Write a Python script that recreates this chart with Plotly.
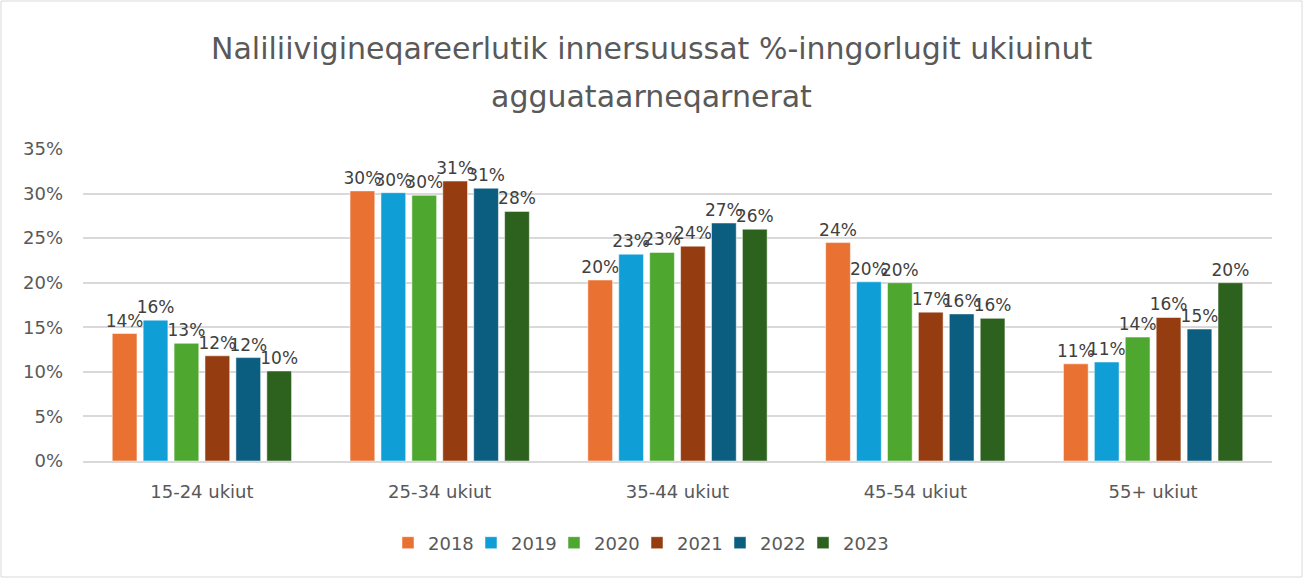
import plotly.graph_objects as go

categories = ['15-24 ukiut', '25-34 ukiut', '35-44 ukiut', '45-54 ukiut', '55+ ukiut']
years = ['2018', '2019', '2020', '2021', '2022', '2023']

v2018 = [0.143, 0.303, 0.203, 0.245, 0.109]
v2019 = [0.158, 0.301, 0.232, 0.201, 0.111]
v2020 = [0.132, 0.298, 0.234, 0.200, 0.139]
v2021 = [0.118, 0.314, 0.241, 0.167, 0.161]
v2022 = [0.116, 0.306, 0.267, 0.165, 0.148]
v2023 = [0.101, 0.280, 0.260, 0.160, 0.200]

series = [v2018, v2019, v2020, v2021, v2022, v2023]
COLORS = ['#E97132', '#0F9ED5', '#4EA72E', '#963C11', '#0B5E80', '#2D621E']

FONT = 'DejaVu Sans'
W, H = 1303, 578
L, R, T, B = 83, 31, 149, 117
PW, PH = W - L - R, H - T - B

fig = go.Figure()
for name, vals, col in zip(years, series, COLORS):
    fig.add_trace(go.Bar(
        x=categories, y=vals, name=name,
        marker=dict(color=col, line=dict(color='white', width=0.5)),
        text=[f'{round(v * 100):.0f}%' for v in vals],
        textposition='outside', constraintext='none', cliponaxis=False,
        textfont=dict(family=FONT, size=17, color='#404040'),
    ))

# entrada vacía al final de la leyenda: evita que se recorte el texto de 2023
fig.add_trace(go.Scatter(x=[None], y=[None], name=' ', mode='markers',
                         marker=dict(color='rgba(0,0,0,0)', size=1,
                                     line=dict(width=0, color='rgba(0,0,0,0)')),
                         hoverinfo='skip'))

# titulo en dos anotaciones para controlar el interlineado
for line, ypx in [('Naliliivigineqareerlutik innersuussat %-inngorlugit ukiuinut', 48),
                  ('agguataarneqarnerat', 97)]:
    fig.add_annotation(text=line, xref='paper', yref='paper',
                       x=0.5 + (R - L) / 2 / PW, y=(H - B - ypx) / PH,
                       xanchor='center', yanchor='middle', showarrow=False,
                       font=dict(family=FONT, size=30, color='#595959'))

fig.update_layout(
    width=W, height=H,
    paper_bgcolor='white', plot_bgcolor='white',
    margin=dict(l=L, r=R, t=T, b=B, autoexpand=False),
    barmode='group', bargap=0.22, bargroupgap=0.2,
    font=dict(family=FONT, size=17, color='#595959'),
    legend=dict(orientation='h', x=(388 - L) / PW, xanchor='left',
                y=(H - B - 543) / PH, yanchor='middle',
                font=dict(family=FONT, size=18, color='#595959'),
                itemwidth=30, entrywidth=38, traceorder='normal'),
    showlegend=True,
)
fig.update_yaxes(range=[0, 0.35], dtick=0.05, tickformat='.0%', showgrid=True,
                 gridcolor='#D9D9D9', gridwidth=1.5, zeroline=False, showline=False,
                 tickfont=dict(size=18, color='#595959'), ticks='', ticklabelstandoff=19)
fig.update_xaxes(showline=True, linecolor='#D9D9D9', linewidth=1.5, ticks='',
                 tickfont=dict(size=18, color='#595959'), ticklabelstandoff=14)
fig.add_shape(type='rect', xref='paper', yref='paper',
              x0=-(L - 1) / PW, x1=1 + (R - 1) / PW, y0=-(B - 1) / PH, y1=1 + (T - 1) / PH,
              line=dict(color='#D9D9D9', width=1))

fig.write_html('out.html', config={'displayModeBar': False},
               post_script="document.body.style.margin='0';")
